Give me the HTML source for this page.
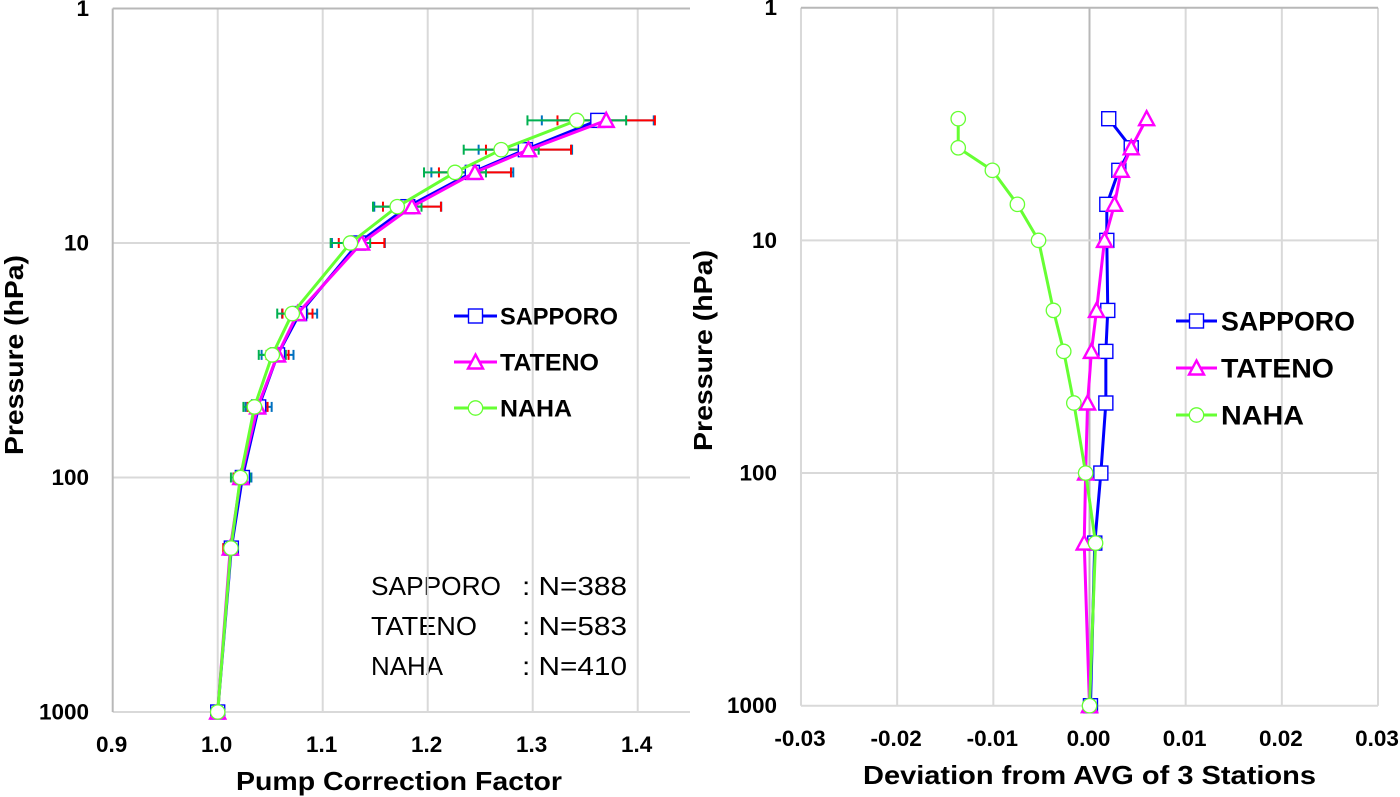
<!DOCTYPE html>
<html lang="en">
<head>
<meta charset="utf-8">
<title>Pump Correction Factor</title>
<style>
html,body{margin:0;padding:0;background:#fff}
svg{display:block}
text{font-family:"Liberation Sans",sans-serif;fill:#000}
.b{font-weight:bold}
</style>
</head>
<body>
<svg id="c" width="1400" height="797" viewBox="0 0 1400 797" xmlns="http://www.w3.org/2000/svg">
<text class="b" x="236" y="790" font-size="26" textLength="326" lengthAdjust="spacingAndGlyphs">Pump Correction Factor</text>
<text class="b" transform="translate(23,455) rotate(-90)" font-size="26" textLength="200" lengthAdjust="spacingAndGlyphs">Pressure (hPa)</text>
<text class="b" x="863" y="784" font-size="26" textLength="453" lengthAdjust="spacingAndGlyphs">Deviation from AVG of 3 Stations</text>
<text class="b" transform="translate(712,451) rotate(-90)" font-size="26" textLength="201" lengthAdjust="spacingAndGlyphs">Pressure (hPa)</text>
<text x="371" y="595" font-size="26" textLength="130" lengthAdjust="spacingAndGlyphs">SAPPORO</text>
<text x="522" y="595" font-size="26" textLength="105" lengthAdjust="spacingAndGlyphs">: N=388</text>
<text x="371" y="635" font-size="26" textLength="106" lengthAdjust="spacingAndGlyphs">TATENO</text>
<text x="522" y="635" font-size="26" textLength="105" lengthAdjust="spacingAndGlyphs">: N=583</text>
<text x="371" y="675" font-size="26" textLength="72" lengthAdjust="spacingAndGlyphs">NAHA</text>
<text x="522" y="675" font-size="26" textLength="105" lengthAdjust="spacingAndGlyphs">: N=410</text>
</svg>
<script>
// Shared pressure levels (hPa)
var pressureLevels = [3, 4, 5, 7, 10, 20, 30, 50, 100, 200, 1000];
var yTickLabels = [1, 10, 100, 1000];

// Left chart: pump correction factor
var leftXTicks = [0.9, 1.0, 1.1, 1.2, 1.3, 1.4];
var factorSapporo = [1.362, 1.293, 1.2425, 1.181, 1.134, 1.078, 1.057, 1.039, 1.0235, 1.013, 1.0];
var factorTateno = [1.370, 1.296, 1.245, 1.185, 1.137, 1.076, 1.057, 1.038, 1.022, 1.012, 1.0];
var factorNaha = [1.342, 1.270, 1.226, 1.171, 1.1264, 1.071, 1.052, 1.035, 1.0216, 1.0126, 1.0];
var errorSapporo = [0.0533, 0.0445, 0.039, 0.0319, 0.0252, 0.0167, 0.0152, 0.0124, 0.0086, 0.0048, 0];
var errorTateno = [0.0464, 0.0405, 0.0343, 0.0276, 0.0217, 0.0143, 0.0105, 0.0095, 0.0067, 0.0067, 0];
var errorNaha = [0.047, 0.0357, 0.0295, 0.0231, 0.0188, 0.0143, 0.0129, 0.0105, 0.009, 0.0038, 0];

// Right chart: deviation from the three-station average
var rightXTicks = [-0.03, -0.02, -0.01, 0, 0.01, 0.02, 0.03];
var rightXLabels = ['-0.03', '-0.02', '-0.01', '0.00', '0.01', '0.02', '0.03'];
var devSapporo = [0.0020, 0.00434, 0.00305, 0.0018, 0.0018, 0.0019, 0.0017, 0.0017, 0.00118, 0.00055, 0.0001];
var devTateno = [0.00594, 0.00434, 0.0033, 0.0026, 0.00156, 0.00073, 0.0002, -0.0002, -0.0004, -0.00055, 0];
var devNaha = [-0.01365, -0.01365, -0.0101, -0.0075, -0.0053, -0.00375, -0.00268, -0.00163, -0.0004, 0.00063, 0];

var NS = 'http://www.w3.org/2000/svg';
var svg = document.getElementById('c');
var GRID = '#d9d9d9', AXIS = '#b8b8b8';

function mk(tag, attrs, name) {
  var el = document.createElementNS(NS, tag);
  for (var k in attrs) el.setAttribute(k, attrs[k]);
  
  
  svg.appendChild(el);
  return el;
}
function label(x, y, str, anchor, size, name) {
  var t = mk('text', {x: x, y: y, 'text-anchor': anchor, 'font-size': size, 'class': 'b'}, name);
  t.textContent = str;
  return t;
}
function marker(kind, x, y, name) {
  if (kind === 'square') {
    mk('rect', {x: x - 7, y: y - 7, width: 14, height: 14, fill: '#fff', stroke: '#0000ff', 'stroke-width': 1.4}, name);
  } else if (kind === 'triangle') {
    mk('path', {d: 'M' + x + ' ' + (y - 7.5) + 'L' + (x + 7.5) + ' ' + (y + 6.5) + 'L' + (x - 7.5) + ' ' + (y + 6.5) + 'Z', fill: '#fff', stroke: '#ff00ff', 'stroke-width': 2.4}, name);
  } else {
    mk('circle', {cx: x, cy: y, r: 7.2, fill: '#fff', stroke: '#66ff33', 'stroke-width': 1.3}, name);
  }
}
function series(values, color, kind, sx, sy, name) {
  var d = values.map(function (v, i) {
    return (i ? 'L' : 'M') + sx(v).toFixed(2) + ' ' + sy(pressureLevels[i]).toFixed(2);
  }).join('');
  mk('path', {d: d, fill: 'none', stroke: color, 'stroke-width': 3, 'stroke-linejoin': 'round'}, name + '-line');
  values.forEach(function (v, i) {
    marker(kind, sx(v), sy(pressureLevels[i]), name + '-marker-' + pressureLevels[i]);
  });
}
function errorBars(values, errs, color, sx, sy, name) {
  values.forEach(function (v, i) {
    if (!errs[i]) return;
    var y = sy(pressureLevels[i]), a = sx(v - errs[i]), b = sx(v + errs[i]);
    mk('line', {x1: a, x2: b, y1: y, y2: y, stroke: color, 'stroke-width': 2}, name + '-error-' + pressureLevels[i]);
    mk('line', {x1: a, x2: a, y1: y - 5, y2: y + 5, stroke: color, 'stroke-width': 2}, name + '-error-cap-low-' + pressureLevels[i]);
    mk('line', {x1: b, x2: b, y1: y - 5, y2: y + 5, stroke: color, 'stroke-width': 2}, name + '-error-cap-high-' + pressureLevels[i]);
  });
}
function legend(x0, x1, tx, rows, size, widths, prefix) {
  rows.forEach(function (r, i) {
    mk('line', {x1: x0, x2: x1, y1: r.y, y2: r.y, stroke: r.color, 'stroke-width': 3}, prefix + '-legend-line-' + r.text.toLowerCase());
    marker(r.kind, (x0 + x1) / 2, r.y, prefix + '-legend-marker-' + r.text.toLowerCase());
    var t = label(tx, r.y + size * 0.36, r.text, 'start', size, prefix + '-legend-label-' + r.text.toLowerCase());
    t.setAttribute('textLength', widths[i]);
    t.setAttribute('lengthAdjust', 'spacingAndGlyphs');
  });
}

// ---- Left chart ----
function xL(v) { return 217.7 + (v - 1) * 1050; }
function yL(p) { return 8.5 + Math.log10(p) * 234.5; }
var LR = 690;
leftXTicks.forEach(function (t, i) {
  if (i) mk('line', {x1: xL(t), x2: xL(t), y1: yL(1), y2: yL(1000), stroke: GRID, 'stroke-width': 2}, 'left-x-gridline-' + t.toFixed(1));
  label(xL(t) - 1, 752, t.toFixed(1), 'middle', 22.5, 'left-x-tick-' + t.toFixed(1));
});
yTickLabels.forEach(function (p) {
  mk('line', {x1: xL(0.9), x2: LR, y1: yL(p), y2: yL(p), stroke: p === 1 ? AXIS : GRID, 'stroke-width': 2}, 'left-y-gridline-' + p);
  label(89, yL(p) + 7.5, String(p), 'end', 22.5, 'left-y-tick-' + p);
});
mk('line', {x1: xL(0.9), x2: xL(0.9), y1: yL(1), y2: yL(1000), stroke: AXIS, 'stroke-width': 2}, 'left-y-axis-line');
errorBars(factorSapporo, errorSapporo, '#0070c0', xL, yL, 'left-sapporo');
errorBars(factorTateno, errorTateno, '#ff0000', xL, yL, 'left-tateno');
errorBars(factorNaha, errorNaha, '#00b050', xL, yL, 'left-naha');
series(factorSapporo, '#0000ff', 'square', xL, yL, 'left-sapporo');
series(factorTateno, '#ff00ff', 'triangle', xL, yL, 'left-tateno');
series(factorNaha, '#66ff33', 'circle', xL, yL, 'left-naha');
legend(454, 497, 500, [
  {y: 316, color: '#0000ff', kind: 'square', text: 'SAPPORO'},
  {y: 362, color: '#ff00ff', kind: 'triangle', text: 'TATENO'},
  {y: 408, color: '#66ff33', kind: 'circle', text: 'NAHA'}
], 24, [118, 99, 72], 'left');

// ---- Right chart ----
function xR(v) { return 1089.5 + v * 9617; }
function yR(p) { return 7.7 + Math.log10(p) * 232.67; }
rightXTicks.forEach(function (t, i) {
  var isZero = t === 0;
  mk('line', {x1: xR(t), x2: xR(t), y1: yR(1), y2: yR(1000), stroke: isZero ? AXIS : GRID, 'stroke-width': 2}, 'right-x-gridline-' + rightXLabels[i]);
  label(xR(t) - 1, 746, rightXLabels[i], 'middle', 22.5, 'right-x-tick-' + rightXLabels[i]);
});
yTickLabels.forEach(function (p) {
  mk('line', {x1: xR(-0.03), x2: xR(0.03), y1: yR(p), y2: yR(p), stroke: p === 1 ? AXIS : GRID, 'stroke-width': 2}, 'right-y-gridline-' + p);
  label(777, yR(p) + 7.5, String(p), 'end', 22.5, 'right-y-tick-' + p);
});
series(devSapporo, '#0000ff', 'square', xR, yR, 'right-sapporo');
series(devTateno, '#ff00ff', 'triangle', xR, yR, 'right-tateno');
series(devNaha, '#66ff33', 'circle', xR, yR, 'right-naha');
legend(1176, 1217, 1221, [
  {y: 321, color: '#0000ff', kind: 'square', text: 'SAPPORO'},
  {y: 368, color: '#ff00ff', kind: 'triangle', text: 'TATENO'},
  {y: 415, color: '#66ff33', kind: 'circle', text: 'NAHA'}
], 27, [134, 113, 83], 'right');
</script>
</body>
</html>
